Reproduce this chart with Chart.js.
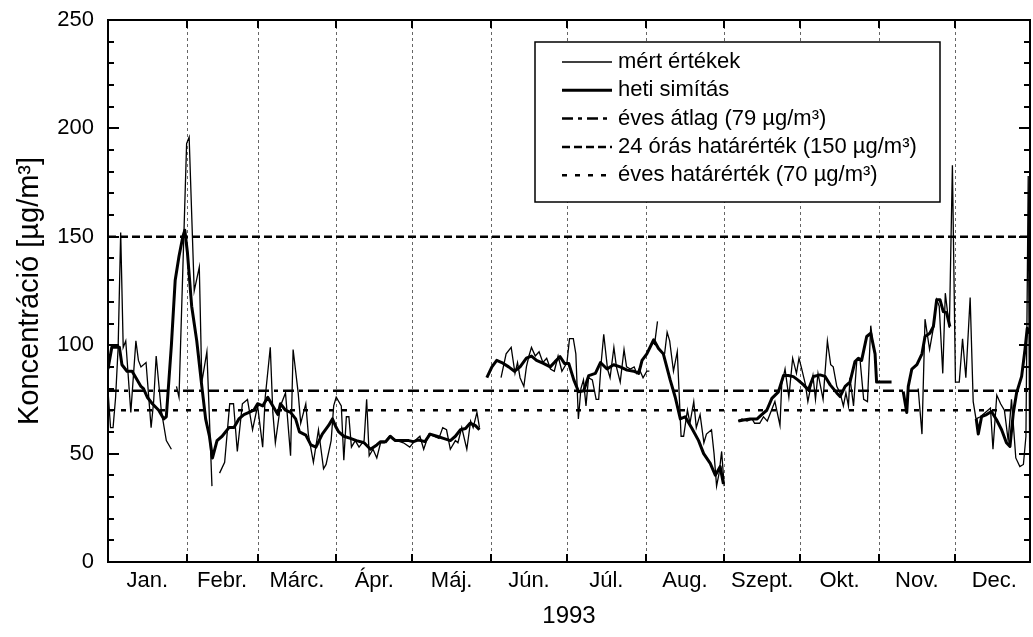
<!DOCTYPE html>
<html>
<head>
<meta charset="utf-8">
<script src="https://cdn.jsdelivr.net/npm/chart.js@4.4.1/dist/chart.umd.min.js"></script>
<style>
  body { margin: 0; background: #fff; }
  canvas { display: block; }
</style>
</head>
<body>
<canvas id="chart" width="1033" height="637"></canvas>
<script>
// 1993, day of year on x, concentration in µg/m3 on y
const months = ['Jan.', 'Febr.', 'Márc.', 'Ápr.', 'Máj.', 'Jún.', 'Júl.', 'Aug.', 'Szept.', 'Okt.', 'Nov.', 'Dec.']
const monthStart = [0, 31, 59, 90, 120, 151, 181, 212, 243, 273, 304, 334, 365]
const yTicks = [0, 50, 100, 150, 200, 250]
const xMax = 363.6

const annualMean = 79
const dailyLimit = 150
const annualLimit = 70

// daily measured values (null = missing, breaks the line)
const measuredDays = [
  0, 1, 2, 3, 4, 5, 6, 7, 9, 11, 12, 13, 15, 17, 18, 19, 21, 23, 25, 26,
  27, 28, 31, 32, 34, 36, 37, 39, 41, 42.5,
  44, 46, 48, 49.5, 51, 53, 55, 57, 59, 61, 62, 64, 65, 66, 68, 70, 72, 73, 75, 76,
  78, 79, 81, 83, 85, 86, 88, 89, 90, 92, 93, 94, 95, 96, 97.5, 99, 101, 102, 103, 104.5,
  106, 107.5, 109, 111, 114, 116.5, 119, 121, 123, 124.5, 126.5, 128.5, 130.5, 132, 133.5, 135, 137, 138, 139.5, 141.5,
  143, 144, 145.5, 146.5, 150,
  155, 157, 159, 160.5, 161.5, 162.5, 164, 165, 166, 167, 168.5, 170, 171.5, 173, 174.5, 176, 177.5, 179, 181, 182,
  183.5, 184.5, 185.5, 186.5, 187.5, 188.5, 189.5, 191, 192.5, 193.5, 194.5, 195.5, 197, 198, 199.5, 200.5, 202, 203.5, 204.5, 206,
  207.5, 208.5, 209.5, 211, 212.5, 213.5, 214.5, 215.5, 216.7, 218,
  219.5, 220.5, 221.5, 223, 224.5, 226, 227, 228.5, 229.5, 231, 232, 233.5, 235, 236, 238, 239, 240, 241, 242, 243, 245,
  248.5, 250, 252, 254, 255, 257, 258.5, 260, 261, 263, 265, 265.7, 267, 268.5, 270, 271.5, 272.5, 273.6, 275, 276,
  278, 279, 280, 282, 283.7, 285, 286, 287.4, 288.7, 290, 291, 292, 292.6, 294, 295.3, 296.6, 298, 299.5, 300.8, 301.8, 303,
  319.5, 321, 322.2, 324, 325.5, 326.8, 327.8, 329.2, 330.2, 331.8, 333, 334.2, 335.7, 337, 338.3, 340, 341.2,
  342.3, 344, 346, 348, 349, 350.5, 352, 353.5, 355, 356.3, 358, 359.6, 361, 362, 362.9, 363.5,
]
const measuredValues = [
  79, 62, 62, 76, 99, 152, 99, 102, 69, 102, 93, 90, 92, 62, 74, 95, 70, 56, 52, null,
  81, 76, 193, 196, 125, 136, 83, 97, 35, null,
  41, 46, 73, 73, 51, 73, 75, 61, 72, 53, 76, 99, 69, 55, 72, 78, 49, 98, 78, 64,
  73, 59, 46, 61, 43, 45, 56, 72, 76, 72, 47, 67, 67, 53, 56, 53, 56, 75, 49, 52,
  48, 55, 55, 58, 56, 55, 53, 56, 58, 52, 59, 58, 57, 62, 61, 52, 56, 55, 62, 52,
  65, 62, 69, 62, null,
  85, 96, 99, 87, 92, 85, 81, 90, 95, 99, 95, 97, 92, 94, 89, 88, 95, 88, 92, 103,
  103, 96, 66, 80, 84, 72, 85, 84, 75, 75, 92, 105, 89, 85, 99, 90, 83, 98, 90, 89,
  90, 87, 89, 85, 88, 88, null, 100, 111, null,
  96, 106, 102, 88, 97, 58, 58, 70, 64, 74, 62, 68, 55, 59, 61, 50, 35, 41, 51, 35, null,
  65, 66, 65, 66, 64, 64, 67, 65, 68, 74, 63, 82, 89, 76, 94, 87, 94, 89, 82, 74,
  86, 75, 87, 75, 102, 91, 90, 81, 78, 72, 78, 72, 85, 72, 93, 93, 75, 74, 109, 99, null,
  80, 59, 112, 98, 108, 121, 118, 87, 124, 108, 183, 83, 83, 103, 85, 122, 74,
  66, 67, 69, 71, 52, 77, 73, 70, 56, 75, 48, 44, 45, 58, 178, 42,
]

// weekly smoothing
const smoothDays = [
  0, 1.5, 4.5, 5.5, 7.5, 9.5, 11, 13, 14, 15.5, 17.5, 20, 22, 23, 25, 26.5, 28, 29.5, 30.3, 31.3,
  33, 35, 37, 38.5, 40, 41.2, 43, 45, 47.7, 49.7, 51.6, 53.6, 55.6, 57.5, 59, 61, 63, 65, 67, 68,
  70, 72, 74, 75.5, 78, 80, 82, 84.5, 87, 88.5, 90, 91, 93, 95.6, 98, 101, 103.5, 106, 107.5, 109.5,
  111.3, 113.3, 116, 118.6, 120.5, 122.5, 125, 127, 129.7, 132.3, 135, 137, 139, 141, 142.8, 144.8, 146.5, 148,
  149.4, 151.4, 153.3, 155.3, 158, 160.3, 162.5, 165, 167, 169, 171.7, 174.4, 176.3, 178.3, 180, 181.7, 183.7, 185.6, 187.6, 189.6,
  192.2, 194.2, 196.8, 199.4, 202, 204.7, 207.3, 209.3, 210.6, 212.5, 215.2, 217.1, 219, 221.7, 223.7, 225.7, 227.6, 230.3, 232.9, 234.9,
  237.5, 239.5, 241.4, 242.7, 245,
  248.6, 250.6, 253.2, 256, 257.8, 259.8, 261.8, 264.4, 266.4, 268.3, 270.3, 272, 274.3, 276.2, 278.2, 280.8, 282.8, 284.8, 287.4, 288.7,
  290.7, 292.6, 294.6, 295.9, 297.2, 299.2, 300.8, 302.5, 303.1, 309, 311,
  313.6, 315, 315.6, 317, 319, 321, 322.2, 324.1, 325.5, 326.8, 328.1, 329.4, 330.7, 332, 337,
  342.4, 343.2, 344.5, 346.5, 348.4, 350.4, 352.4, 354.3, 355.7, 357, 358.3, 360.3, 361.6, 362.5, 363.5,
]
const smoothValues = [
  89, 99, 99, 91, 88, 88, 85, 81, 80, 76, 73, 70, 66, 67, 100, 130, 141, 150, 153, 143,
  118, 102, 81, 66, 58, 48, 56, 58, 62, 62, 66, 68, 69, 70, 73, 72, 76, 72, 68, 73,
  70, 69, 66, 60, 58.5, 54, 53, 59, 63, 66, 62, 60, 58, 57, 56, 55, 52, 54, 55.5, 55.5,
  58, 56, 56, 56, 55.5, 56.3, 55.5, 59, 58, 57, 56, 58, 61, 61.6, 64, 63, 61, null,
  85, 90, 93, 92, 90, 88, 90, 94, 95, 93, 91.6, 90, 92.4, 94.7, 91.6, 91.6, 84, 78.5, 79, 86,
  87, 92, 89, 91, 90, 88.5, 88, 87, 93, 96, 102.5, 98.5, 96, 84, 76, 66, 67, 61.6, 56, 50,
  45.5, 40, 44, 36, null,
  65, 65.5, 66, 66, 68, 70, 75.5, 78.5, 86, 86, 85.5, 84, 81.7, 79.4, 85.6, 86.3, 85.6, 81.7, 78, 76.3,
  81, 83, 92.5, 94, 93, 104, 105.5, 96, 83, 83, null,
  78.6, 69, 81, 89, 91, 96, 104, 105.5, 108.6, 121, 121, 115.5, 115, 108.6, null,
  66, 59, 67, 68, 69.4, 65.6, 61, 55, 53.3, 68.6, 78, 85.6, 97.8, 107.8, 105.5,
]

const toPoints = (days, values) => days.map((d, i) => ({ x: d, y: values[i] }))
const flatLine = (v) => [{ x: 0, y: v }, { x: xMax, y: v }]
const monthMid = months.map((m, i) => (monthStart[i] + monthStart[i + 1]) / 2)

const FONT = "'Liberation Sans', Arial, Helvetica, sans-serif"

// dotted month separators, frame and inward ticks
const frame = {
  id: 'frame',
  beforeDatasetsDraw(chart) {
    const { ctx, chartArea: a, scales: { x } } = chart
    ctx.save()
    ctx.strokeStyle = '#666'
    ctx.lineWidth = 1
    ctx.setLineDash([3, 3])
    monthStart.slice(1, -1).forEach((d) => {
      const px = Math.round(x.getPixelForValue(d)) + 0.5
      ctx.beginPath()
      ctx.moveTo(px, a.top)
      ctx.lineTo(px, a.bottom)
      ctx.stroke()
    })
    ctx.restore()
  },
  afterDatasetsDraw(chart) {
    const { ctx, chartArea: a, scales: { x, y } } = chart
    ctx.save()
    ctx.strokeStyle = '#000'
    ctx.lineWidth = 2
    ctx.setLineDash([])
    ctx.strokeRect(a.left, a.top, a.right - a.left, a.bottom - a.top)
    ctx.beginPath()
    for (let v = 0; v <= 250; v += 10) {
      const py = Math.round(y.getPixelForValue(v))
      const len = v % 50 === 0 ? 11 : 6
      ctx.moveTo(a.left, py)
      ctx.lineTo(a.left + len, py)
      ctx.moveTo(a.right, py)
      ctx.lineTo(a.right - len, py)
    }
    monthStart.slice(1, -1).forEach((d) => {
      const px = Math.round(x.getPixelForValue(d))
      ctx.moveTo(px, a.bottom)
      ctx.lineTo(px, a.bottom - 8)
      ctx.moveTo(px, a.top)
      ctx.lineTo(px, a.top + 8)
    })
    ctx.stroke()
    ctx.restore()
  },
}

// boxed legend inside the plot
const boxLegend = {
  id: 'boxLegend',
  afterDatasetsDraw(chart) {
    const { ctx, chartArea: a } = chart
    const left = a.left + 427
    const top = a.top + 22
    const w = 405
    const h = 160
    ctx.save()
    ctx.fillStyle = '#fff'
    ctx.fillRect(left, top, w, h)
    ctx.strokeStyle = '#000'
    ctx.lineWidth = 1.5
    ctx.strokeRect(left, top, w, h)
    ctx.font = '22px ' + FONT
    ctx.textBaseline = 'middle'
    ctx.fillStyle = '#000'
    chart.data.datasets.forEach((ds, i) => {
      const cy = top + 20 + i * 28.3
      ctx.beginPath()
      ctx.setLineDash(ds.borderDash || [])
      ctx.lineWidth = ds.borderWidth
      ctx.moveTo(left + 27, cy)
      ctx.lineTo(left + 77, cy)
      ctx.stroke()
      ctx.setLineDash([])
      ctx.fillText(ds.label, left + 83, cy)
    })
    ctx.restore()
  },
}

new Chart(document.getElementById('chart'), {
  type: 'line',
  data: {
    datasets: [
      {
        label: 'mért értékek',
        data: toPoints(measuredDays, measuredValues),
        borderColor: '#000',
        borderWidth: 1.3,
      },
      {
        label: 'heti simítás',
        data: toPoints(smoothDays, smoothValues),
        borderColor: '#000',
        borderWidth: 3,
        borderJoinStyle: 'round',
      },
      {
        label: 'éves átlag (79 µg/m³)',
        data: flatLine(annualMean),
        borderColor: '#000',
        borderWidth: 2.5,
        borderDash: [11, 5, 4, 5],
      },
      {
        label: '24 órás határérték (150 µg/m³)',
        data: flatLine(dailyLimit),
        borderColor: '#000',
        borderWidth: 2.5,
        borderDash: [8, 4],
      },
      {
        label: 'éves határérték (70 µg/m³)',
        data: flatLine(annualLimit),
        borderColor: '#000',
        borderWidth: 2.5,
        borderDash: [5, 8],
      },
    ],
  },
  options: {
    responsive: false,
    animation: false,
    devicePixelRatio: 1,
    layout: { padding: { top: 20, right: 3, bottom: 0, left: 0 } },
    elements: { point: { radius: 0 }, line: { tension: 0 } },
    plugins: { legend: { display: false }, tooltip: { enabled: false } },
    scales: {
      x: {
        type: 'linear',
        min: 0,
        max: xMax,
        afterBuildTicks: (s) => {
          s.ticks = monthMid.map((v) => ({ value: v }))
        },
        afterFit: (s) => {
          s.height = 75
          s.paddingLeft = 0
          s.paddingRight = 0
        },
        grid: { display: false, drawTicks: false },
        border: { display: false },
        ticks: {
          color: '#000',
          font: { family: FONT, size: 22 },
          padding: 6,
          maxRotation: 0,
          autoSkip: false,
          callback: (v, i) => months[i],
        },
        title: {
          display: true,
          text: '1993',
          color: '#000',
          font: { family: FONT, size: 24 },
          padding: { top: 0, bottom: 6 },
        },
      },
      y: {
        min: 0,
        max: 250,
        afterBuildTicks: (s) => {
          s.ticks = yTicks.map((v) => ({ value: v }))
        },
        afterFit: (s) => {
          s.width = 108
          s.paddingTop = 0
          s.paddingBottom = 0
        },
        grid: { display: false, drawTicks: false },
        border: { display: false },
        ticks: { color: '#000', font: { family: FONT, size: 22 }, padding: 14 },
        title: {
          display: true,
          text: 'Koncentráció [µg/m³]',
          color: '#000',
          font: { family: FONT, size: 29 },
          padding: { top: 13, bottom: 0 },
        },
      },
    },
  },
  plugins: [frame, boxLegend],
})
</script>
</body>
</html>
